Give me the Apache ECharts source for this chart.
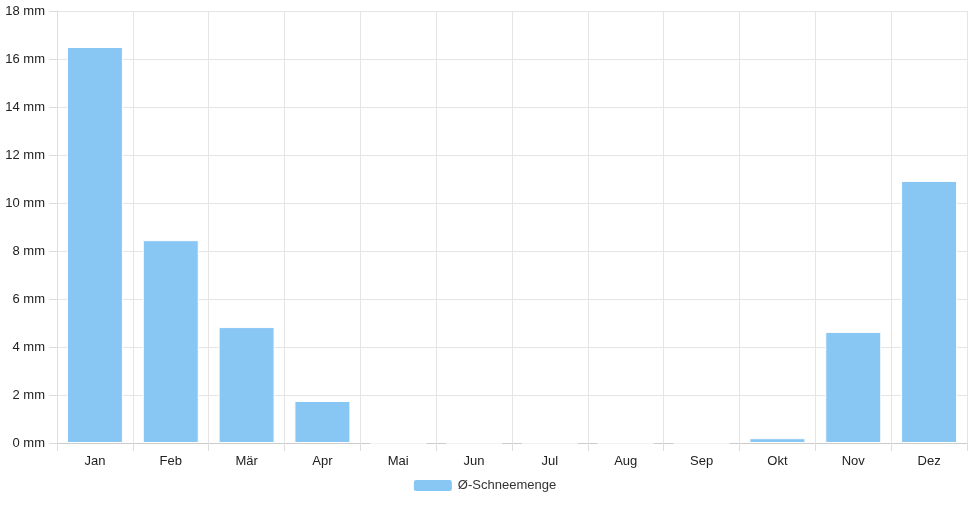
<!DOCTYPE html>
<html><head><meta charset="utf-8">
<script src="https://cdn.jsdelivr.net/npm/echarts@6/dist/echarts.min.js"></script>
<style>html,body{margin:0;padding:0}#c{width:968px;height:508px}</style>
</head><body><div id="c"></div>
<script>
const categories = ["Jan","Feb","Mär","Apr","Mai","Jun","Jul","Aug","Sep","Okt","Nov","Dez"];
const snow = [16.5, 8.45, 4.83, 1.75, 0, 0, 0, 0, 0, 0.2, 4.63, 10.92];
const seriesName = "Ø-Schneemenge";
const chart = echarts.init(document.getElementById('c'));
chart.setOption({
  animation: false,
  textStyle: {fontFamily: 'Liberation Sans, Arial, sans-serif'},
  grid: {left: 57, right: 1, top: 11, bottom: 65, containLabel: false},
  legend: {bottom: 10, left: 'center', itemWidth: 40, itemHeight: 13, itemGap: 10,
    textStyle: {color: '#333', fontSize: 13}, data: [seriesName]},
  xAxis: {type: 'category', data: categories,
    axisLine: {lineStyle: {color: '#ccc'}},
    axisTick: {show: true, length: 8, lineStyle: {color: '#ddd'}},
    splitLine: {show: true, lineStyle: {color: '#e5e5e5'}},
    axisLabel: {color: '#222', fontSize: 13, margin: 12}},
  yAxis: {type: 'value', min: 0, max: 18, interval: 2,
    axisLine: {show: true, lineStyle: {color: '#ddd'}},
    axisTick: {show: true, length: 8, lineStyle: {color: '#ddd'}},
    splitLine: {lineStyle: {color: '#e5e5e5'}},
    axisLabel: {color: '#222', fontSize: 13, margin: 12, formatter: v => v + ' mm'}},
  series: [{name: seriesName, type: 'bar', data: snow, barWidth: 56,
    itemStyle: {color: '#88c6f3', borderColor: '#fff', borderWidth: 1}}]
});
</script></body></html>
